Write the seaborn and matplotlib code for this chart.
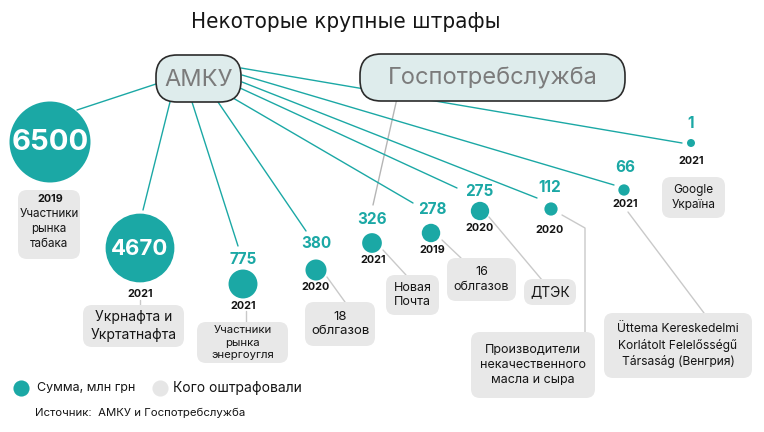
import matplotlib
matplotlib.use("Agg")
import matplotlib.pyplot as plt
import seaborn as sns
import pandas as pd
from matplotlib.patches import FancyBboxPatch
from matplotlib import font_manager

# ---- data ----
values = [6500, 4670, 775, 380, 326, 278, 275, 112, 66, 1]
years = [2019, 2021, 2021, 2020, 2021, 2019, 2020, 2020, 2021, 2021]
fined = ["Участники\nрынка\nтабака", "Укрнафта и\nУкртатнафта",
         "Участники\nрынка\nэнергоугля", "18\nоблгазов", "Новая\nПочта",
         "16\nоблгазов", "ДТЭК", "Производители\nнекачественного\nмасла и сыра",
         "Üttema Kereskedelmi\nKorlátolt Felelősségű\nTársaság (Венгрия)",
         "Google\nУкраїна"]
agency = ["АМКУ", "АМКУ", "АМКУ", "АМКУ", "Госпотребслужба",
          "АМКУ", "АМКУ", "АМКУ", "АМКУ", "АМКУ"]

title = "Некоторые крупные штрафы"
legend_labels = ["Сумма, млн грн", "Кого оштрафовали"]
source = "Источник:  АМКУ и Госпотребслужба"

# ---- layout (pixels) ----
bubble_xy = [(50, 142), (140, 248), (243, 284), (316, 270), (372, 243),
             (431, 233), (480, 211), (551, 209), (624, 190), (691, 143)]
num_xy = [(50, 143), (140, 249), (243, 260), (316, 244), (372, 219),
          (432, 210), (479, 191), (550, 188), (625, 168), (691, 123)]
year_xy = [(50, 199), (140, 294), (243, 306), (316, 287), (373, 260),
           (432, 250), (480, 228), (549, 230), (625, 204), (691, 161)]
box_rect = [(18, 190, 80, 259), (83, 305, 184, 347), (197, 322, 288, 363),
            (305, 302, 375, 346), (386, 275, 439, 315), (447, 258, 516, 301),
            (524, 279, 576, 305), (471, 332, 595, 398), (604, 313, 752, 378),
            (662, 177, 725, 218)]
box_fs = [8.4, 10, 8.2, 9.5, 9, 9, 10, 9, 8.7, 8.5]
connectors = [None, [(140, 300), (140, 305)], [(246, 311), (246, 322)],
              [(327, 277), (345, 302)], [(383, 250), (406, 275)],
              [(442, 240), (461, 258)], [(489, 217), (542, 280)],
              [(562, 215), (585, 228), (585, 332)], [(628, 212), (704, 313)],
              None]
line_from = [(156, 84), (170, 102), (192, 102), (218, 102), (400, 85),
             (233, 98), (240, 88), (242, 82), (242, 75), (241, 68)]
line_to = [(77, 110), (143, 210), (238, 246), (306, 231), (373, 205),
           (413, 203), (457, 188), (537, 198), (614, 185), (682, 143)]
agency_rect = {"АМКУ": (156, 55, 241, 102), "Госпотребслужба": (360, 54, 625, 101)}

TEAL = "#1ba8a5"
GRAY_BOX = "#e8e8e8"
GRAY_LINE = "#c9c9c9"
INK = "#151515"

sns.set_style("white")
plt.rcParams["font.family"] = ["Inter", "DejaVu Sans"]

# look for a narrow face for the title
title_font = None
for f in font_manager.fontManager.ttflist:
    nm = f.name.lower()
    if ("narrow" in nm or "condensed" in nm or "condensed" in str(f.stretch)) \
            and f.weight in (400, "normal", "regular") and f.style == "normal":
        title_font = font_manager.FontProperties(fname=f.fname)
        if "narrow" not in nm:
            break

fig = plt.figure(figsize=(7.64, 4.32), dpi=100)
ax = fig.add_axes([0, 0, 1, 1])

# lines from agencies
for i, ag in enumerate(agency):
    (x0, y0), (x1, y1) = line_from[i], line_to[i]
    c = TEAL if ag == "АМКУ" else "#b5b5b5"
    ax.plot([x0, x1], [y0, y1], color=c, lw=1.0, zorder=1)

# agency boxes
for name, (x0, y0, x1, y1) in agency_rect.items():
    ax.add_patch(FancyBboxPatch((x0, y0), x1 - x0, y1 - y0,
                                boxstyle="round,pad=0,rounding_size=21",
                                fc="#deecec", ec="#2b2b2b", lw=1.2, zorder=2))
    ax.text((x0 + x1) / 2, (y0 + y1) / 2 + 1, name, ha="center", va="center",
            fontsize=17, color="#7b7b7b", zorder=4)

# connectors to labels
for pts in connectors:
    if pts:
        ax.plot([p[0] for p in pts], [p[1] for p in pts], color=GRAY_LINE,
                lw=1.0, zorder=1)

# label boxes
for i, (x0, y0, x1, y1) in enumerate(box_rect):
    ax.add_patch(FancyBboxPatch((x0, y0), x1 - x0, y1 - y0,
                                boxstyle="round,pad=0,rounding_size=9",
                                fc=GRAY_BOX, ec="none", zorder=2))
    cy = (y0 + y1) / 2
    if i == 0:
        cy = 229
    ax.text((x0 + x1) / 2, cy, fined[i], ha="center", va="center",
            fontsize=box_fs[i], color=INK, linespacing=1.3, zorder=4)

# bubbles
df = pd.DataFrame({"x": [p[0] for p in bubble_xy],
                   "y": [p[1] for p in bubble_xy],
                   "value": values})
sns.scatterplot(data=df, x="x", y="y", size="value", sizes=(33, 3400),
                size_norm=(1, 6500), color=TEAL, linewidth=0, legend=False,
                ax=ax, zorder=3)
ax.set_xlim(0, 764)
ax.set_ylim(432, 0)
ax.axis("off")

# numbers and years
for i, v in enumerate(values):
    if i < 2:
        ax.text(*num_xy[i], str(v), ha="center", va="center", color="white",
                fontsize=21 if i == 0 else 16, fontweight="bold", zorder=5)
    else:
        ax.text(*num_xy[i], str(v), ha="center", va="center", color=TEAL,
                fontsize=11, fontweight="bold", zorder=5)
    ax.text(*year_xy[i], str(years[i]), ha="center", va="center", color=INK,
            fontsize=7.8, fontweight="bold", zorder=5)

# title
if title_font is not None:
    title_font.set_size(16)
    ax.text(346, 22, title, ha="center", va="center", color=INK,
            fontproperties=title_font)
else:
    ax.text(346, 22, title, ha="center", va="center", fontsize=14, color=INK,
            family=["Roboto", "DejaVu Sans"])

# legend
ax.scatter([21], [388], s=135, color=TEAL, linewidth=0, zorder=3)
ax.text(37, 388, legend_labels[0], ha="left", va="center", fontsize=9, color=INK)
ax.scatter([160], [388], s=135, color="#e6e6e6", linewidth=0, zorder=3)
ax.text(173, 388, legend_labels[1], ha="left", va="center", fontsize=10, color=INK)
ax.text(35, 413, source, ha="left", va="center", fontsize=8.2, color=INK)

fig.savefig("out.png", dpi=100)
